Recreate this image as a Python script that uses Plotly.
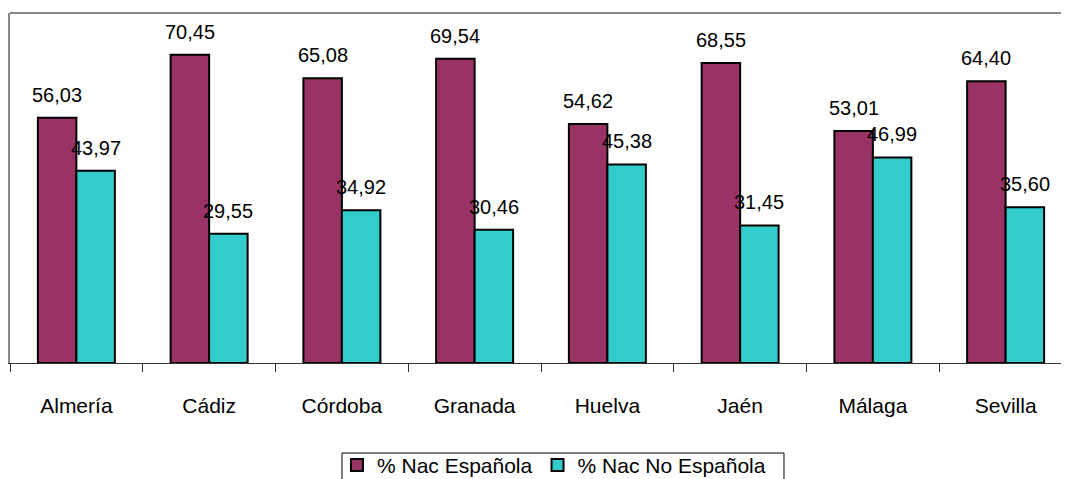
import plotly.graph_objects as go

categories = ["Almería", "Cádiz", "Córdoba", "Granada", "Huelva", "Jaén", "Málaga", "Sevilla"]
espanola = [56.03, 70.45, 65.08, 69.54, 54.62, 68.55, 53.01, 64.40]
no_espanola = [43.97, 29.55, 34.92, 30.46, 45.38, 31.45, 46.99, 35.60]
series_names = ["% Nac Española", "% Nac No Española"]
series_colors = ["#993366", "#33CCCC"]

FONT = "Liberation Sans, Arial, sans-serif"

fig = go.Figure()
for name, vals, col in zip(series_names, [espanola, no_espanola], series_colors):
    fig.add_trace(go.Bar(
        x=categories, y=vals, name=name,
        marker=dict(color=col, line=dict(color="black", width=2)),
    ))

def fmt(v):
    return f"{v:.2f}".replace(".", ",")

annotations = []
for vals, xs in [(espanola, -19.3), (no_espanola, 19.3)]:
    for c, v in zip(categories, vals):
        annotations.append(dict(
            x=c, y=v, xref="x", yref="y", text=fmt(v), showarrow=False,
            xanchor="center", yanchor="bottom", xshift=xs, yshift=10,
            font=dict(family=FONT, size=20, color="black"),
        ))

fig.update_layout(
    barmode="group", bargap=0.42, bargroupgap=0,
    width=1069, height=479,
    margin=dict(l=2, r=5, t=5, b=124, autoexpand=False),
    paper_bgcolor="white", plot_bgcolor="white",
    font=dict(family=FONT, size=21, color="black"),
    annotations=annotations,
    showlegend=True,
    legend=dict(
        orientation="h", x=0.5122, xanchor="center", y=-0.234, yanchor="top",
        borderwidth=0, font=dict(family=FONT, size=21),
        bgcolor="rgba(0,0,0,0)", itemwidth=30,
    ),
    shapes=[
        dict(type="line", xref="paper", yref="paper", x0=0, x1=1, y0=1, y1=1,
             line=dict(color="#888888", width=2)),
        dict(type="rect", xref="paper", yref="paper", x0=0.3126, x1=0.7288,
             y0=-0.2571, y1=-0.45, line=dict(color="black", width=1),
             fillcolor="rgba(0,0,0,0)"),
    ],
)
fig.update_xaxes(
    type="category", range=[-0.5, 7.5], automargin=False,
    showline=True, linecolor="#333333", linewidth=1,
    ticks="outside", tickson="boundaries", ticklen=8, tickcolor="#333333", tickwidth=1,
    showgrid=False, ticklabelstandoff=24,
    tickfont=dict(family=FONT, size=21, color="black"),
)
fig.update_yaxes(
    range=[0, 80], automargin=False, showline=True, linecolor="#888888", linewidth=2,
    showticklabels=False, ticks="", showgrid=False, zeroline=False,
)

fig.write_html("out.html")
